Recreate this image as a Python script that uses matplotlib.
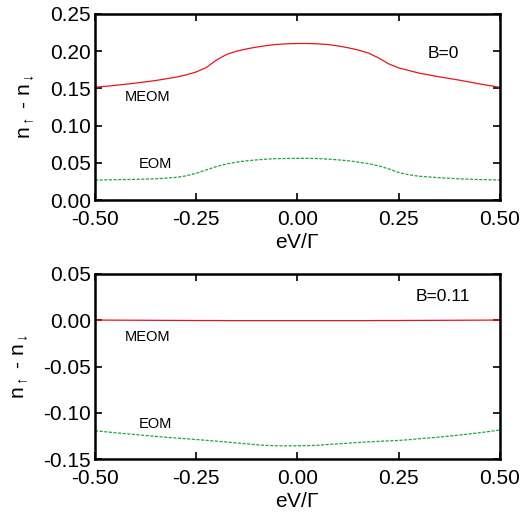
import matplotlib
matplotlib.use("Agg")
import matplotlib.pyplot as plt

plt.rcParams['font.family'] = ['Liberation Sans', 'DejaVu Sans']
plt.rcParams['mathtext.fontset'] = 'custom'
plt.rcParams['mathtext.rm'] = 'Liberation Sans'
plt.rcParams['mathtext.it'] = 'Liberation Sans'

# DATA
ev = [-0.50, -0.45, -0.40, -0.35, -0.30, -0.275, -0.25, -0.225, -0.20, -0.175,
      -0.15, -0.125, -0.10, -0.075, -0.05, -0.025, 0.00, 0.025, 0.05, 0.075,
      0.10, 0.125, 0.15, 0.175, 0.20, 0.225, 0.25, 0.275, 0.30, 0.35,
      0.40, 0.45, 0.50]

meom_b0 = [0.1514, 0.1540, 0.1570, 0.1605, 0.1650, 0.1680, 0.1720, 0.1780, 0.1880, 0.1955,
           0.2000, 0.2030, 0.2055, 0.2075, 0.2090, 0.2098, 0.2102, 0.2102, 0.2097, 0.2088,
           0.2070, 0.2045, 0.2015, 0.1975, 0.1910, 0.1830, 0.1775, 0.1740, 0.1705, 0.1655,
           0.1610, 0.1560, 0.1514]
eom_b0 = [0.0269, 0.0273, 0.0278, 0.0285, 0.0305, 0.0325, 0.0360, 0.0405, 0.0450, 0.0485,
          0.0510, 0.0528, 0.0540, 0.0550, 0.0556, 0.0559, 0.0560, 0.0560, 0.0557, 0.0550,
          0.0540, 0.0528, 0.0510, 0.0490, 0.0460, 0.0420, 0.0370, 0.0340, 0.0320, 0.0300,
          0.0285, 0.0275, 0.0269]

meom_b11 = [0.0002, 0.0001, 0.0000, -0.0001, -0.0002, -0.0002, -0.0003, -0.0003, -0.0003, -0.0004,
            -0.0004, -0.0004, -0.0004, -0.0004, -0.0004, -0.0004, -0.0004, -0.0004, -0.0004, -0.0004,
            -0.0004, -0.0004, -0.0004, -0.0004, -0.0003, -0.0003, -0.0003, -0.0002, -0.0002, -0.0001,
            0.0000, 0.0001, 0.0002]
eom_b11 = [-0.1194, -0.1215, -0.1235, -0.1255, -0.1272, -0.1280, -0.1288, -0.1297, -0.1306, -0.1315,
           -0.1325, -0.1335, -0.1345, -0.1352, -0.1356, -0.1357, -0.1356, -0.1354, -0.1350, -0.1342,
           -0.1335, -0.1328, -0.1320, -0.1314, -0.1308, -0.1303, -0.1298, -0.1290, -0.1280, -0.1262,
           -0.1240, -0.1215, -0.1186]

panels = [
    dict(meom=meom_b0, eom=eom_b0, ylim=(0.0, 0.25),
         yticks=[0.0, 0.05, 0.10, 0.15, 0.20, 0.25], tag="B=0",
         tag_y=0.197, meom_y=0.138, eom_y=0.049),
    dict(meom=meom_b11, eom=eom_b11, ylim=(-0.15, 0.05),
         yticks=[-0.15, -0.10, -0.05, 0.0, 0.05], tag="B=0.11",
         tag_y=0.0255, meom_y=-0.0185, eom_y=-0.112),
]

fig = plt.figure(figsize=(5.25, 5.13), dpi=100)
rects = [[0.181, 0.610, 0.771, 0.363], [0.181, 0.105, 0.771, 0.361]]

for rect, p in zip(rects, panels):
    ax = fig.add_axes(rect)
    ax.plot(ev, p['meom'], color='#e8141c', lw=0.9)
    ax.plot(ev, p['eom'], color='#1aa83a', lw=0.9, ls=(0, (2.5, 1.2)))
    ax.set_xlim(-0.5, 0.5)
    ax.set_ylim(*p['ylim'])
    ax.set_xticks([-0.5, -0.25, 0.0, 0.25, 0.5])
    ax.set_yticks(p['yticks'])
    ax.xaxis.set_major_formatter(plt.FormatStrFormatter('%.2f'))
    ax.yaxis.set_major_formatter(plt.FormatStrFormatter('%.2f'))
    ax.tick_params(direction='in', top=True, right=True, length=5, width=1.2,
                   labelsize=15)
    ax.tick_params(axis='x', pad=7)
    ax.tick_params(axis='y', pad=3)
    for s in ax.spines.values():
        s.set_linewidth(1.8)
    ax.set_xlabel(r'eV/$\Gamma$', fontsize=15, labelpad=3)
    ax.set_ylabel(r'n$_\uparrow$ - n$_\downarrow$', fontsize=15, labelpad=9)
    ax.text(0.36, p['tag_y'], p['tag'], fontsize=12.5, ha='center', va='center')
    ax.text(-0.37, p['meom_y'], 'MEOM', fontsize=10.5, ha='center', va='center')
    ax.text(-0.35, p['eom_y'], 'EOM', fontsize=10.5, ha='center', va='center')

fig.savefig('out.png', dpi=100)
